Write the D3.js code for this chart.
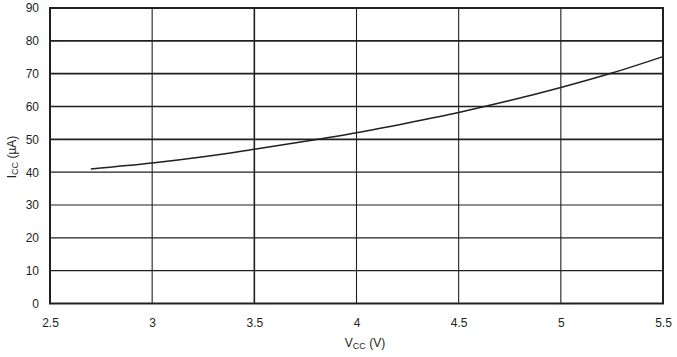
<!DOCTYPE html>
<html>
<head>
<meta charset="utf-8">
<script src="https://cdn.jsdelivr.net/npm/d3@7"></script>
<style>
  html, body { margin: 0; padding: 0; background: #fff; }
  svg { display: block; }
  text { font-family: "Liberation Sans", Arial, Helvetica, sans-serif; fill: #231f20; }
</style>
</head>
<body>
<script>
// Data
const vcc = [2.7, 3.0, 3.25, 3.5, 3.75, 4.0, 4.25, 4.5, 4.75, 5.0, 5.25, 5.5];
const icc = [41, 42.8, 44.7, 47, 49.4, 52, 55, 58.2, 61.8, 65.8, 70.2, 75.2];
const xTicks = [2.5, 3, 3.5, 4, 4.5, 5, 5.5];
const yTicks = [0, 10, 20, 30, 40, 50, 60, 70, 80, 90];

const W = 677, H = 357;
const m = { left: 50, right: 14, top: 8, bottom: 53.5 };
const ink = "#231f20";

const svg = d3.select("body").append("svg").attr("width", W).attr("height", H);

const x = d3.scaleLinear().domain([2.5, 5.5]).range([m.left, W - m.right]);
const y = d3.scaleLinear().domain([0, 90]).range([H - m.bottom, m.top]);

// gridlines
const g = svg.append("g");
g.selectAll("line.h").data(yTicks.filter(d => d > 0 && d < 90)).enter().append("line")
  .attr("x1", x(2.5)).attr("x2", x(5.5))
  .attr("y1", d => y(d)).attr("y2", d => y(d))
  .attr("stroke", ink).attr("stroke-width", d => d >= 50 ? 1.6 : 1.1);
g.selectAll("line.v").data(xTicks.filter(d => d > 2.5 && d < 5.5)).enter().append("line")
  .attr("y1", y(0)).attr("y2", y(90))
  .attr("x1", d => x(d)).attr("x2", d => x(d))
  .attr("stroke", ink).attr("stroke-width", d => d === 3.5 ? 1.6 : 1.1);

// frame
svg.append("rect")
  .attr("x", x(2.5)).attr("y", y(90))
  .attr("width", x(5.5) - x(2.5)).attr("height", y(0) - y(90))
  .attr("fill", "none").attr("stroke", ink).attr("stroke-width", 2);

// axes (labels only)
const xAxis = svg.append("g").attr("transform", `translate(0,${y(0)})`)
  .call(d3.axisBottom(x).tickValues(xTicks).tickSize(0).tickPadding(15).tickFormat(d3.format("")));
const yAxis = svg.append("g").attr("transform", `translate(${x(2.5)},0)`)
  .call(d3.axisLeft(y).tickValues(yTicks).tickSize(0).tickPadding(11).tickFormat(d3.format("")));
[xAxis, yAxis].forEach(a => {
  a.select(".domain").remove();
  a.selectAll("text").attr("font-size", 12).attr("fill", ink)
    .attr("font-family", "'Liberation Sans', Arial, sans-serif");
});

// curve
const line = d3.line().x((d, i) => x(vcc[i])).y((d, i) => y(icc[i])).curve(d3.curveMonotoneX);
svg.append("path").datum(icc).attr("d", line)
  .attr("fill", "none").attr("stroke", ink).attr("stroke-width", 1.5);

// axis titles
const xt = svg.append("text").attr("x", 365).attr("y", 347)
  .attr("text-anchor", "middle").attr("font-size", 12);
xt.append("tspan").text("V");
xt.append("tspan").attr("font-size", 9).attr("dy", 2).text("CC");
xt.append("tspan").attr("dy", -2).text(" (V)");

const yt = svg.append("text").attr("transform", "translate(16,157) rotate(-90)")
  .attr("text-anchor", "middle").attr("font-size", 12);
yt.append("tspan").text("I");
yt.append("tspan").attr("font-size", 9).attr("dy", 2).text("CC");
yt.append("tspan").attr("dy", -2).text(" (µA)");
</script>
</body>
</html>
